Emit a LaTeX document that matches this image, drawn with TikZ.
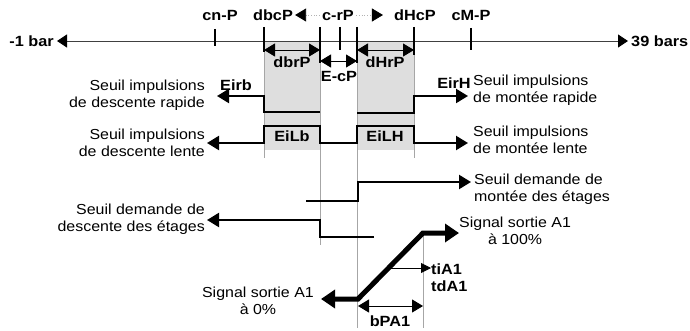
\documentclass[tikz,border=0pt]{standalone}
\usepackage{fontspec}
\setmainfont{Liberation Sans}[FakeStretch=1.1]
\usetikzlibrary{arrows.meta, positioning, calc}

\begin{document}
\begin{tikzpicture}[
    x=1pt, y=-1pt,
    txt/.style={inner sep=0pt, font=\fontsize{14.5}{17}\selectfont},
    lbl/.style={inner sep=0pt, font=\fontsize{14.8}{17}\selectfont\bfseries},
    axis/.style={draw, black!75, line width=0.8pt, {Triangle[length=10pt,width=13pt,black]}-{Triangle[length=10pt,width=13pt,black]}},
    tick/.style={draw, line width=2pt},
    box/.style={fill=black!13},
    guide/.style={draw, black!35, line width=1pt},
    dots/.style={draw, black!30, dotted, line width=0.8pt, -{Triangle[length=11pt,width=13pt,black]}},
    dim/.style={draw, line width=0.9pt, {Triangle[length=11pt,width=13pt]}-{Triangle[length=11pt,width=13pt]}},
    sig/.style={draw, line width=2.2pt, -{Triangle[length=12pt,width=14pt]}},
    sigb/.style={draw, line width=2.2pt, {Triangle[length=12pt,width=14pt]}-{Triangle[length=12pt,width=14pt]}},
    outsig/.style={draw, line width=5pt, {Triangle[length=14pt,width=18pt]}-{Triangle[length=14pt,width=18pt]}},
    thinarrow/.style={draw, line width=0.9pt, -{Triangle[length=10pt,width=10pt]}}
]
\useasboundingbox (0,0) rectangle (690,331);

\fill [box] (264,41) rectangle (320,150);
\fill [box] (357,41) rectangle (414,150);
\path [guide] (264,41) -- (264,158);
\path [guide] (320,41) -- (320,245);
\path [guide] (357,41) -- (357,328);
\path [guide] (414,41) -- (414,158);
\path [guide] (423,233) -- (423,328);

\node [lbl, anchor=east, inner xsep=3pt] (lo) at (57,41) {-1 bar};
\node [lbl, anchor=west, inner xsep=3pt] (hi) at (628,41) {39 bars};
\node [lbl] (cnP) at (220,15) {cn-P};
\node [lbl, inner xsep=2pt] (dbcP) at (273,15) {dbcP};
\node [lbl, inner xsep=2pt] (crP) at (338,15) {c-rP};
\node [lbl] (dHcP) at (415,15) {dHcP};
\node [lbl] (cMP) at (471,15) {cM-P};
\node [lbl] (dbrP) at (292,62) {dbrP};
\node [lbl] (dHrP) at (385,62) {dHrP};
\node [lbl] (EcP) at (339,76) {E-cP};
\node [lbl] (Eirb) at (236,85) {Eirb};
\node [lbl] (EirH) at (454,83) {EirH};
\node [lbl] (EiLb) at (292,136) {EiLb};
\node [lbl] (EiLH) at (385,136) {EiLH};
\node [lbl, align=left, anchor=west] (tiA) at (431,278) {tiA1\\tdA1};
\node [lbl] (bPA) at (390,321) {bPA1};

\node [txt, align=right, anchor=east] (dRap) at (205,95) {Seuil impulsions\\de descente rapide};
\node [txt, align=right, anchor=east] (dLen) at (205,143) {Seuil impulsions\\de descente lente};
\node [txt, align=right, anchor=east] (dEta) at (205,219) {Seuil demande de\\descente des étages};
\node [txt, align=left, anchor=west] (mRap) at (473,90) {Seuil impulsions\\de montée rapide};
\node [txt, align=left, anchor=west] (mLen) at (473,140) {Seuil impulsions\\de montée lente};
\node [txt, align=left, anchor=west] (mEta) at (474,189) {Seuil demande de\\montée des étages};
\node [txt, align=center, anchor=west] (a100) at (459,231) {Signal sortie A1\\à 100\%};
\node [txt, align=center, anchor=east] (a0) at (314,301) {Signal sortie A1\\à 0\%};

\path [axis] (lo.east) -- (hi.west);
\path [tick] (215,29) -- (215,46);
\path [tick] (264,27) -- (264,52);
\path [tick] (320,27) -- (320,63);
\path [tick] (340,27) -- (340,50);
\path [tick] (357,27) -- (357,63);
\path [tick] (414,27) -- (414,55);
\path [tick] (471,28) -- (471,50);

\path [dots] (crP.west) -- (dbcP.east);
\path [dots, shorten >=11pt] (crP.east) -- (dHcP.west);

\path [dim] (264,50) -- (320,50);
\path [dim] (357,50) -- (414,50);
\path [dim] (320,61) -- (357,61);
\path [dim] (358,306) -- (423,306);

\path [sig] (320,112) -- (264,112) -- (264,96) -- (217,96);
\path [sig] (357,113) -- (414,113) -- (414,96) -- (468,96);
\path [sigb] (207,143) -- (264,143) -- (264,126) -- (320,126) -- (320,143) -- (357,143) -- (357,126) -- (414,126) -- (414,143) -- (468,143);
\path [sig] (306,201) -- (358,201) -- (358,182) -- (471,182);
\path [sig] (374,237) -- (320,237) -- (320,220) -- (207,220);
\path [outsig] (321,299) -- (358,299) -- (423,233) -- (459,233);
\path [thinarrow] (390,268) -- (tiA.west |- 0,268);

\end{tikzpicture}
\end{document}
